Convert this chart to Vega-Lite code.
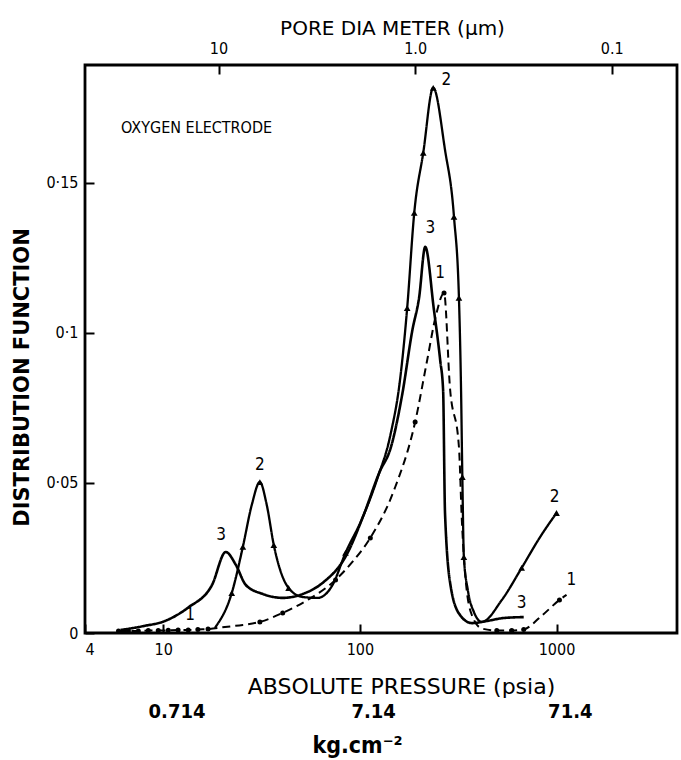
{
  "$schema": "https://vega.github.io/schema/vega-lite/v6.json",
  "width": 592,
  "height": 568,
  "autosize": {"type": "none"},
  "padding": {"left": 85, "top": 65, "right": 4, "bottom": 127},
  "background": "white",
  "config": {
    "view": {"stroke": "black", "strokeWidth": 2.8},
    "font": "DejaVu Sans Condensed, Liberation Sans",
    "axis": {
      "grid": false,
      "domain": false,
      "tickColor": "black",
      "tickWidth": 2,
      "labelColor": "black",
      "titleColor": "black",
      "labelFont": "DejaVu Sans Condensed, Liberation Sans",
      "titleFont": "DejaVu Sans, Liberation Sans",
      "titleFontWeight": "normal"
    }
  },
  "datasets": {
    "curves": [
      {"s": "1", "p": 5.92, "v": 0.0007, "m": 1},
      {"s": "1", "p": 6.65, "v": 0.0007, "m": 1},
      {"s": "1", "p": 7.47, "v": 0.0007, "m": 1},
      {"s": "1", "p": 8.39, "v": 0.0008, "m": 1},
      {"s": "1", "p": 9.43, "v": 0.0008, "m": 1},
      {"s": "1", "p": 10.6, "v": 0.0009, "m": 1},
      {"s": "1", "p": 11.9, "v": 0.001, "m": 1},
      {"s": "1", "p": 13.4, "v": 0.001, "m": 1},
      {"s": "1", "p": 15.0, "v": 0.0012, "m": 1},
      {"s": "1", "p": 16.9, "v": 0.0013, "m": 1},
      {"s": "1", "p": 20.6, "v": 0.002, "m": 0},
      {"s": "1", "p": 25.4, "v": 0.0027, "m": 0},
      {"s": "1", "p": 31.0, "v": 0.0037, "m": 1},
      {"s": "1", "p": 40.5, "v": 0.0067, "m": 1},
      {"s": "1", "p": 54.2, "v": 0.011, "m": 0},
      {"s": "1", "p": 75.2, "v": 0.0177, "m": 1},
      {"s": "1", "p": 91.6, "v": 0.0237, "m": 0},
      {"s": "1", "p": 113, "v": 0.0317, "m": 1},
      {"s": "1", "p": 150, "v": 0.048, "m": 0},
      {"s": "1", "p": 191, "v": 0.0703, "m": 1},
      {"s": "1", "p": 220, "v": 0.091, "m": 0},
      {"s": "1", "p": 244, "v": 0.106, "m": 0},
      {"s": "1", "p": 268, "v": 0.1133, "m": 1},
      {"s": "1", "p": 287, "v": 0.082, "m": 0},
      {"s": "1", "p": 319, "v": 0.062, "m": 0},
      {"s": "1", "p": 330, "v": 0.0377, "m": 0},
      {"s": "1", "p": 346, "v": 0.017, "m": 0},
      {"s": "1", "p": 371, "v": 0.006, "m": 0},
      {"s": "1", "p": 417, "v": 0.0015, "m": 0},
      {"s": "1", "p": 497, "v": 0.0008, "m": 1},
      {"s": "1", "p": 592, "v": 0.0008, "m": 1},
      {"s": "1", "p": 681, "v": 0.0012, "m": 1},
      {"s": "1", "p": 839, "v": 0.0057, "m": 0},
      {"s": "1", "p": 1035, "v": 0.011, "m": 1},
      {"s": "1", "p": 1125, "v": 0.0127, "m": 0},

      {"s": "2", "p": 18.3, "v": 0.0017, "m": 0},
      {"s": "2", "p": 22.3, "v": 0.0133, "m": 1},
      {"s": "2", "p": 25.4, "v": 0.0287, "m": 1},
      {"s": "2", "p": 28.2, "v": 0.0427, "m": 0},
      {"s": "2", "p": 31.0, "v": 0.0503, "m": 1},
      {"s": "2", "p": 33.6, "v": 0.0427, "m": 0},
      {"s": "2", "p": 36.5, "v": 0.0293, "m": 1},
      {"s": "2", "p": 43.4, "v": 0.015, "m": 1},
      {"s": "2", "p": 51.2, "v": 0.012, "m": 0},
      {"s": "2", "p": 60.9, "v": 0.0117, "m": 0},
      {"s": "2", "p": 72.6, "v": 0.016, "m": 0},
      {"s": "2", "p": 84.5, "v": 0.0267, "m": 1},
      {"s": "2", "p": 103, "v": 0.0383, "m": 0},
      {"s": "2", "p": 123, "v": 0.0517, "m": 0},
      {"s": "2", "p": 143, "v": 0.066, "m": 0},
      {"s": "2", "p": 160, "v": 0.0843, "m": 0},
      {"s": "2", "p": 174, "v": 0.1083, "m": 1},
      {"s": "2", "p": 189, "v": 0.14, "m": 1},
      {"s": "2", "p": 210, "v": 0.16, "m": 1},
      {"s": "2", "p": 236, "v": 0.1817, "m": 1},
      {"s": "2", "p": 271, "v": 0.161, "m": 0},
      {"s": "2", "p": 301, "v": 0.1387, "m": 1},
      {"s": "2", "p": 319, "v": 0.1117, "m": 1},
      {"s": "2", "p": 327, "v": 0.081, "m": 0},
      {"s": "2", "p": 332, "v": 0.052, "m": 1},
      {"s": "2", "p": 338, "v": 0.0253, "m": 1},
      {"s": "2", "p": 354, "v": 0.0143, "m": 0},
      {"s": "2", "p": 380, "v": 0.007, "m": 0},
      {"s": "2", "p": 417, "v": 0.0037, "m": 0},
      {"s": "2", "p": 527, "v": 0.011, "m": 0},
      {"s": "2", "p": 665, "v": 0.0217, "m": 1},
      {"s": "2", "p": 820, "v": 0.0317, "m": 0},
      {"s": "2", "p": 1000, "v": 0.04, "m": 1},

      {"s": "3", "p": 6.06, "v": 0.001, "m": 0},
      {"s": "3", "p": 7.92, "v": 0.0023, "m": 0},
      {"s": "3", "p": 10.2, "v": 0.004, "m": 1},
      {"s": "3", "p": 13.4, "v": 0.0085, "m": 0},
      {"s": "3", "p": 17.7, "v": 0.016, "m": 1},
      {"s": "3", "p": 20.8, "v": 0.027, "m": 1},
      {"s": "3", "p": 23.4, "v": 0.0227, "m": 0},
      {"s": "3", "p": 26.3, "v": 0.016, "m": 1},
      {"s": "3", "p": 32.1, "v": 0.013, "m": 0},
      {"s": "3", "p": 40.5, "v": 0.0117, "m": 1},
      {"s": "3", "p": 51.2, "v": 0.013, "m": 0},
      {"s": "3", "p": 64.6, "v": 0.0167, "m": 0},
      {"s": "3", "p": 85.5, "v": 0.026, "m": 0},
      {"s": "3", "p": 105, "v": 0.0397, "m": 0},
      {"s": "3", "p": 126, "v": 0.0537, "m": 0},
      {"s": "3", "p": 143.5, "v": 0.0617, "m": 1},
      {"s": "3", "p": 164, "v": 0.0793, "m": 0},
      {"s": "3", "p": 185, "v": 0.101, "m": 0},
      {"s": "3", "p": 200, "v": 0.1117, "m": 1},
      {"s": "3", "p": 215, "v": 0.1287, "m": 1},
      {"s": "3", "p": 238, "v": 0.1077, "m": 0},
      {"s": "3", "p": 256, "v": 0.091, "m": 0},
      {"s": "3", "p": 265, "v": 0.081, "m": 0},
      {"s": "3", "p": 271, "v": 0.04, "m": 1},
      {"s": "3", "p": 290, "v": 0.0153, "m": 1},
      {"s": "3", "p": 323, "v": 0.006, "m": 0},
      {"s": "3", "p": 371, "v": 0.0033, "m": 0},
      {"s": "3", "p": 443, "v": 0.004, "m": 0},
      {"s": "3", "p": 540, "v": 0.005, "m": 1},
      {"s": "3", "p": 681, "v": 0.0053, "m": 0}
    ],
    "labels": [
      {"p": 275, "v": 0.1843, "t": "2"},
      {"p": 228, "v": 0.135, "t": "3"},
      {"p": 256, "v": 0.12, "t": "1"},
      {"p": 31, "v": 0.056, "t": "2"},
      {"p": 19.7, "v": 0.0327, "t": "3"},
      {"p": 13.7, "v": 0.006, "t": "1"},
      {"p": 977, "v": 0.0453, "t": "2"},
      {"p": 665, "v": 0.01, "t": "3"},
      {"p": 1191, "v": 0.0177, "t": "1"}
    ],
    "note": [{"p": 6.1, "v": 0.1683, "t": "OXYGEN ELECTRODE"}],
    "pore": [{"d": 10}, {"d": 1}, {"d": 0.1}],
    "kg": [{"k": 0.714}, {"k": 7.14}, {"k": 71.4}]
  },
  "layer": [
    {
      "data": {"name": "pore"},
      "mark": {"type": "point", "opacity": 0},
      "encoding": {
        "x": {
          "field": "d",
          "type": "quantitative",
          "scale": {"type": "log", "domain": [0.04659, 47.75], "reverse": true},
          "axis": {
            "orient": "top",
            "values": [10, 1, 0.1],
            "labelExpr": "datum.value == 1 ? '1.0' : (datum.value == 10 ? '10' : '0.1')",
            "tickSize": -9,
            "labelFontSize": 16,
            "labelPadding": 18,
            "title": "PORE DIA METER (µm)",
            "titleFontSize": 20,
            "titleX": 307,
            "titleY": -37,
            "titleBaseline": "middle",
            "titleAlign": "center"
          }
        }
      }
    },
    {
      "data": {"name": "kg"},
      "mark": {"type": "point", "opacity": 0},
      "encoding": {
        "x": {
          "field": "k",
          "type": "quantitative",
          "scale": {"type": "log", "domain": [0.2813, 288.3]},
          "axis": {
            "orient": "bottom",
            "offset": 68,
            "values": [0.714, 7.14, 71.4],
            "format": ".3~g",
            "ticks": false,
            "labelPadding": 0,
            "labelOffset": 12,
            "labelFontSize": 20,
            "labelFontWeight": "bold",
            "title": "kg.cm⁻²",
            "titleFont": "DejaVu Sans Condensed, Liberation Sans",
            "titleFontSize": 23,
            "titleFontWeight": "bold",
            "titleX": 272,
            "titleY": 44,
            "titleBaseline": "middle",
            "titleAlign": "center"
          }
        }
      }
    },
    {
      "encoding": {
        "x": {
          "field": "p",
          "type": "quantitative",
          "scale": {"type": "log", "domain": [4, 4100]},
          "axis": {
            "orient": "bottom",
            "values": [4, 10, 100, 1000],
            "format": "d",
            "tickSize": -9,
            "labelFontSize": 16,
            "labelPadding": 17,
            "title": "ABSOLUTE PRESSURE (psia)",
            "titleFontSize": 22,
            "titleX": 316,
            "titleY": 53,
            "titleBaseline": "middle",
            "titleAlign": "center"
          }
        },
        "y": {
          "field": "v",
          "type": "quantitative",
          "scale": {"domain": [0, 0.1893], "nice": false},
          "axis": {
            "values": [0, 0.05, 0.1, 0.15],
            "labelExpr": "replace(format(datum.value, '~g'), '.', '·')",
            "tickSize": -9,
            "labelFontSize": 16,
            "labelPadding": 16,
            "title": "DISTRIBUTION FUNCTION",
            "titleFontSize": 21,
            "titleFontWeight": "bold",
            "titleX": -63,
            "titleY": 312,
            "titleBaseline": "middle",
            "titleAlign": "center"
          }
        }
      },
      "layer": [
        {
          "data": {"name": "curves"},
          "mark": {"type": "line", "interpolate": "monotone", "color": "black"},
          "encoding": {
            "detail": {"field": "s", "type": "nominal"},
            "strokeDash": {"field": "s", "type": "nominal", "scale": {"domain": ["1", "2", "3"], "range": [[8, 5], [1, 0], [1, 0]]}, "legend": null},
            "strokeWidth": {"field": "s", "type": "ordinal", "scale": {"domain": ["1", "2", "3"], "range": [2, 2.6, 2]}, "legend": null}
          }
        },
        {
          "data": {"name": "curves"},
          "transform": [{"filter": "datum.m == 1"}],
          "mark": {"type": "point", "filled": true, "color": "black", "opacity": 1, "strokeWidth": 2},
          "encoding": {
            "shape": {"field": "s", "type": "nominal", "scale": {"domain": ["1", "2", "3"], "range": ["circle", "triangle-up", "M-1,-1L1,1M1,-1L-1,1"]}, "legend": null},
            "size": {"field": "s", "type": "ordinal", "scale": {"domain": ["1", "2", "3"], "range": [25, 65, 40]}, "legend": null}
          }
        },
        {
          "data": {"name": "labels"},
          "mark": {"type": "text", "fontSize": 17, "color": "black"},
          "encoding": {"text": {"field": "t", "type": "nominal"}}
        },
        {
          "data": {"name": "note"},
          "mark": {"type": "text", "fontSize": 16, "align": "left", "color": "black"},
          "encoding": {"text": {"field": "t", "type": "nominal"}}
        }
      ]
    }
  ],
  "resolve": {"scale": {"x": "independent"}, "axis": {"x": "independent"}}
}
